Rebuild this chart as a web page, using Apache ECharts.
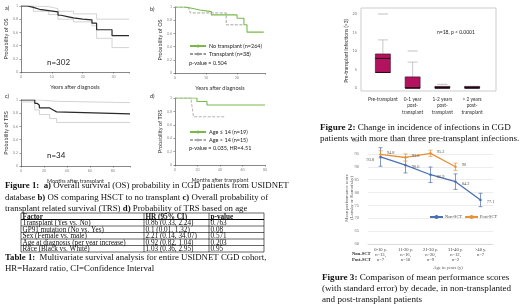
<!DOCTYPE html>
<html><head><meta charset="utf-8">
<script src="https://cdn.jsdelivr.net/npm/echarts@6/dist/echarts.min.js"></script>
<style>html,body{margin:0;padding:0;background:#fff}#c{width:520px;height:305px}</style>
</head><body><div id="c"></div>
<script>
// ---------- Figure 1a: overall survival ----------
const osYears  = [0, 2, 4, 6, 9, 12, 13, 15, 17, 20, 23, 24.5, 29.5, 35];
const osProb   = [1, 0.98, 0.95, 0.93, 0.91, 0.86, 0.84, 0.82, 0.80, 0.79, 0.74, 0.64, 0.55, 0.55];
const osUpYears = [0, 4, 9, 12, 17, 24.5, 35];
const osUpProb  = [1, 0.99, 0.96, 0.92, 0.88, 0.80, 0.80];
const osLoYears = [0, 4, 9, 12, 17, 23, 24.5, 29.5, 35];
const osLoProb  = [1, 0.92, 0.87, 0.80, 0.76, 0.70, 0.51, 0.37, 0.37];
// ---------- Figure 1b: transplant vs no transplant ----------
const noTxYears = [0, 3, 5.4, 8, 11.7, 20, 22.2, 23.2, 28.6];
const noTxProb  = [1, 0.98, 0.955, 0.93, 0.88, 0.83, 0.73, 0.62, 0.62];
const txYears   = [0, 4.5, 5, 13, 16.5, 22];
const txProb    = [1, 0.96, 0.91, 0.91, 0.73, 0.73];
// ---------- Figure 1c: TRS ----------
const trsMonths = [0, 12, 14, 16, 25, 28, 31, 95];
const trsProb   = [1, 0.95, 0.92, 0.88, 0.85, 0.82, 0.79, 0.79];
const trsUpMonths = [0, 12, 16, 31, 95];
const trsUpProb   = [1, 1, 0.98, 0.96, 0.96];
const trsLoMonths = [0, 12, 16, 25, 31, 95];
const trsLoProb   = [0.97, 0.85, 0.78, 0.72, 0.66, 0.66];
// ---------- Figure 1d: TRS by age ----------
const youngMonths = [0, 19.5, 28.4, 80];
const youngProb   = [1, 0.947, 0.895, 0.895];
const oldMonths   = [0, 14.5, 15.2, 15.8, 16.4, 44];
const oldProb     = [1, 0.93, 0.87, 0.80, 0.72, 0.72];
// ---------- Table 1 ----------
const tableHeader = ['Factor', 'HR (95% CI)', 'p-value'];
const tableFactor = ['Transplant (Yes vs. No)', 'GP91 mutation (No vs. Yes)', 'Sex (Female vs. male)', 'Age at diagnosis (per year increase)', 'Race (Black vs. White)'];
const tableHR     = ['0.86 (0.33, 2.24)', '0.1 (0.01, 1.32)', '2.21 (0.14, 34.07)', '0.92 (0.82, 1.04)', '1.03 (0.36, 2.95)'];
const tablePValue = ['0.763', '0.08', '0.571', '0.203', '0.95'];
// ---------- Figure 2: infections box plot ----------
const infCategories = ['Pre-transplant', '0-1 year\npost-\ntransplant', '1-2 years\npost-\ntransplant', '> 2 years\npost-\ntransplant'];
const infMin    = [4, 0, 0, 0];
const infQ1     = [4.2, 0, 0, 0];
const infMedian = [8, 0, 0, 0];
const infQ3     = [9.2, 3, 0, 0];
const infMax    = [13, 7, 0, 0];
const infOutlierCat = [0, 1, 2];
const infOutlierVal = [20, 10, 1];
// ---------- Figure 3: performance scores ----------
const ageGroups   = ['0-10 y.', '11-20 y.', '21-30 y.', '31-40 y.', '>40 y.'];
const nonSctN     = ['n=13,', 'n=16,', 'n=20,', 'n=12,', 'n=7'];
const postSctN    = ['n=7', 'n=10', 'n=9', 'n=2', ''];
const nonSctMean  = [93.8, 90.6, 86.9, 84.2, 77.1];
const nonSctSE    = [3.6, 3.0, 3.0, 3.0, 2.6];
const postSctMean = [94.8, 93.6, 95.2, 90.0];
const postSctSE   = [1.4, 1.4, 1.2, 1.4];

const lato = 'Lato, "Liberation Sans", sans-serif';
const serif = '"Liberation Serif", "Times New Roman", serif';
const pairs = (xs, ys) => xs.map((x, i) => [x, ys[i]]);

function kmX(gi, max, interval, name) {
  return {type: 'value', gridIndex: gi, min: 0, max: max, interval: interval,
    name: name, nameLocation: 'middle', nameGap: 12,
    nameTextStyle: {fontFamily: lato, fontSize: 5.5, color: '#333'},
    axisLine: {show: true, lineStyle: {color: '#555', width: 0.7}},
    axisTick: {show: true, length: 1.5, lineStyle: {color: '#555', width: 0.6}},
    axisLabel: {fontSize: 3.5, color: '#888', margin: 3, fontFamily: lato,
      formatter: v => (Math.abs(v / interval - Math.round(v / interval)) < 1e-6 ? String(v) : '')},
    splitLine: {show: false}};
}
function kmY(gi, name) {
  return {type: 'value', gridIndex: gi, min: 0, max: 1, interval: 0.2,
    name: name, nameLocation: 'middle', nameGap: 12, nameRotate: 90,
    nameTextStyle: {fontFamily: lato, fontSize: 5.5, color: '#333'},
    axisLine: {show: true, lineStyle: {color: '#555', width: 0.7}},
    axisTick: {show: true, length: 1.5, lineStyle: {color: '#555', width: 0.6}},
    axisLabel: {fontSize: 3.5, color: '#888', margin: 3, fontFamily: lato},
    splitLine: {show: false}};
}
function km(name, gi, xs, ys, color, width, type) {
  return {name: name, type: 'line', step: 'end', xAxisIndex: gi, yAxisIndex: gi,
    data: pairs(xs, ys), symbol: 'none', silent: true, animation: false,
    lineStyle: {color: color, width: width, type: type || 'solid'}, itemStyle: {color: color}};
}
function errBars(name, means, ses, color, gi) {
  return {name: name, type: 'custom', xAxisIndex: gi, yAxisIndex: gi, animation: false,
    data: means.map((m, i) => [i, m - ses[i], m + ses[i]]),
    encode: {x: 0, y: [1, 2]},
    renderItem: (params, api) => {
      const lo = api.coord([api.value(0), api.value(1)]);
      const hi = api.coord([api.value(0), api.value(2)]);
      const st = {stroke: color, lineWidth: 0.7};
      return {type: 'group', children: [
        {type: 'line', shape: {x1: lo[0], y1: lo[1], x2: hi[0], y2: hi[1]}, style: st},
        {type: 'line', shape: {x1: lo[0] - 2, y1: lo[1], x2: lo[0] + 2, y2: lo[1]}, style: st},
        {type: 'line', shape: {x1: hi[0] - 2, y1: hi[1], x2: hi[0] + 2, y2: hi[1]}, style: st}
      ]};
    }};
}

const green = '#79b94a';
const txt = (x, y, text, size, opts) => Object.assign({type: 'text', x: x, y: y, silent: true,
  style: Object.assign({text: text, fontSize: size, fontFamily: lato, fill: '#222', verticalAlign: 'middle'}, (opts && opts.style) || {})},
  opts && opts.rotation !== undefined ? {rotation: opts.rotation} : {});
const cap = (x, y, text, size) => ({type: 'text', x: x, y: y, silent: true,
  style: {text: text, fontSize: size, fontFamily: serif, fill: '#111', verticalAlign: 'middle',
    rich: {b: {fontWeight: 'bold', fontSize: size, fontFamily: serif, fill: '#111'}}}});

// table graphic
const tbl = [];
const colX = [21, 144, 209, 264];
const rowTop = 213, rowH = 6.5;
const nRows = tableFactor.length + 1;
for (let r = 0; r <= nRows; r++) {
  const y = rowTop + r * rowH;
  tbl.push({type: 'line', silent: true, shape: {x1: colX[0], y1: y, x2: colX[3], y2: y}, style: {stroke: '#000', lineWidth: r === 1 ? 1.1 : 0.6}});
}
colX.forEach(x => tbl.push({type: 'line', silent: true, shape: {x1: x, y1: rowTop, x2: x, y2: rowTop + nRows * rowH}, style: {stroke: '#000', lineWidth: 0.6}}));
const rows = [tableHeader].concat(tableFactor.map((f, i) => [f, tableHR[i], tablePValue[i]]));
rows.forEach((row, r) => row.forEach((t, c) => tbl.push({type: 'text', silent: true, x: colX[c] + 1.5, y: rowTop + r * rowH + rowH / 2 + 0.4,
  style: {text: t, fontSize: 7.2, fontFamily: serif, fontWeight: r === 0 ? 'bold' : 'normal', fill: '#111', verticalAlign: 'middle'}})));

const option = {
  backgroundColor: '#fff',
  animation: false,
  grid: [
    {left: 21, top: 6, width: 108, height: 66},
    {left: 175, top: 7, width: 90, height: 66},
    {left: 21, top: 100, width: 109, height: 66},
    {left: 175, top: 98, width: 90, height: 67},
    {left: 368, top: 14, width: 119, height: 74},
    {left: 368, top: 141, width: 125, height: 103}
  ],
  xAxis: [
    kmX(0, 35, 10, 'Years after diagnosis'),
    kmX(1, 29, 10, 'Years after diagnosis'),
    kmX(2, 95, 20, 'Months after transplant'),
    kmX(3, 80, 20, 'Months after transplant'),
    {type: 'category', gridIndex: 4, data: infCategories, axisLine: {show: false}, axisTick: {show: false},
      axisLabel: {fontSize: 4.8, fontFamily: lato, color: '#333', lineHeight: 6.5, margin: 8, interval: 0}},
    {type: 'category', gridIndex: 5, data: ageGroups.map((g, i) => g + '\n' + nonSctN[i] + '\n' + postSctN[i]),
      axisLine: {show: true, lineStyle: {color: '#ccc', width: 0.6}}, axisTick: {show: false},
      axisLabel: {fontSize: 4.6, fontFamily: serif, color: '#444', lineHeight: 5.2, margin: 3, interval: 0, verticalAlign: 'top'}}
  ],
  yAxis: [
    kmY(0, 'Probability of OS'),
    kmY(1, 'Probability of OS'),
    kmY(2, 'Probability of TRS'),
    kmY(3, 'Probability of TRS'),
    {type: 'value', gridIndex: 4, min: 0, max: 20, interval: 5,
      name: 'Pre-transplant infections (>3)', nameLocation: 'middle', nameGap: 16, nameRotate: 90,
      nameTextStyle: {fontFamily: lato, fontSize: 5, color: '#333'},
      axisLine: {show: false}, axisTick: {show: false}, splitLine: {show: false},
      axisLabel: {fontSize: 3.8, color: '#777', margin: 11, fontFamily: lato}},
    {type: 'value', gridIndex: 5, min: 60, max: 100, interval: 5,
      axisLine: {show: false}, axisTick: {show: false},
      splitLine: {show: true, lineStyle: {color: '#e0e0e0', width: 0.6}},
      axisLabel: {fontSize: 4.6, color: '#777', margin: 9, fontFamily: serif}}
  ],
  legend: [
    {orient: 'vertical', left: 189, top: 43, itemWidth: 16, itemHeight: 4, itemGap: 2, padding: 0,
      data: ['No transplant (n=264)', 'Transplant (n=38)'],
      textStyle: {fontFamily: lato, fontSize: 5.5, color: '#222', padding: [0, 0, 0, -2]}},
    {orient: 'vertical', left: 189, top: 129, itemWidth: 16, itemHeight: 4, itemGap: 2, padding: 0,
      data: ['Age ≤ 14 (n=19)', 'Age > 14 (n=15)'],
      textStyle: {fontFamily: lato, fontSize: 5.5, color: '#222', padding: [0, 0, 0, -2]}},
    {orient: 'horizontal', left: 429, top: 215, itemWidth: 13, itemHeight: 5, itemGap: 2, padding: 0,
      data: ['Non-SCT', 'Post-SCT'],
      textStyle: {fontFamily: serif, fontSize: 4.4, color: '#444', padding: [0, 0, 0, -3]}}
  ],
  series: [
    km('osUpper', 0, osUpYears, osUpProb, '#c8c8c8', 0.8),
    km('osLower', 0, osLoYears, osLoProb, '#c8c8c8', 0.8),
    km('os', 0, osYears, osProb, '#2a2a2a', 1.2),
    km('Transplant (n=38)', 1, txYears, txProb, '#9a9a9a', 0.9, [3, 1.5]),
    km('No transplant (n=264)', 1, noTxYears, noTxProb, green, 1.1),
    km('trsUpper', 2, trsUpMonths, trsUpProb, '#c8c8c8', 0.8),
    km('trsLower', 2, trsLoMonths, trsLoProb, '#c8c8c8', 0.8),
    km('trs', 2, trsMonths, trsProb, '#2a2a2a', 1.2),
    km('Age > 14 (n=15)', 3, oldMonths, oldProb, '#aaaaaa', 0.9, [3, 1.5]),
    km('Age ≤ 14 (n=19)', 3, youngMonths, youngProb, green, 1.1),
    {name: 'box', type: 'custom', xAxisIndex: 4, yAxisIndex: 4, animation: false,
      data: infCategories.map((c, i) => [i, infMin[i], infQ1[i], infMedian[i], infQ3[i], infMax[i]]),
      encode: {x: 0, y: [1, 2, 3, 4, 5]},
      renderItem: (params, api) => {
        const i = api.value(0);
        const cx = api.coord([i, 0])[0];
        const y = k => api.coord([i, api.value(k)])[1];
        const yMin = y(1), yQ1 = y(2), yMd = y(3), yQ3 = y(4), yMax = y(5);
        const hw = 7.5, whisk = {stroke: '#b0b0b0', lineWidth: 0.7};
        const ch = [];
        if (yMax < yQ3) {
          ch.push({type: 'line', shape: {x1: cx, y1: yQ3, x2: cx, y2: yMax}, style: whisk});
          ch.push({type: 'line', shape: {x1: cx - 5, y1: yMax, x2: cx + 5, y2: yMax}, style: whisk});
        }
        if (yMin > yQ1) {
          ch.push({type: 'line', shape: {x1: cx, y1: yQ1, x2: cx, y2: yMin}, style: whisk});
        }
        const h = Math.max(yQ1 - yQ3, 1.6);
        ch.push({type: 'rect', shape: {x: cx - hw, y: yQ1 - h, width: hw * 2, height: h},
          style: {fill: h > 2 ? '#b3135e' : '#222', stroke: '#3a0a22', lineWidth: 0.6}});
        ch.push({type: 'line', shape: {x1: cx - hw, y1: yMd, x2: cx + hw, y2: yMd}, style: {stroke: '#1a0510', lineWidth: 1}});
        ch.push({type: 'line', shape: {x1: cx - hw, y1: yQ1, x2: cx + hw, y2: yQ1}, style: {stroke: '#1a0510', lineWidth: 0.9}});
        return {type: 'group', children: ch};
      }},
    {name: 'outliers', type: 'scatter', xAxisIndex: 4, yAxisIndex: 4, animation: false,
      data: pairs(infOutlierCat, infOutlierVal), symbol: 'rect', symbolSize: [10, 0.9],
      itemStyle: {color: '#a8a8a8'}},
    errBars('Non-SCT err', nonSctMean, nonSctSE, '#4a6fb3', 5),
    errBars('Post-SCT err', postSctMean, postSctSE, '#e69138', 5),
    {name: 'Non-SCT', type: 'line', xAxisIndex: 5, yAxisIndex: 5, animation: false,
      data: nonSctMean.map((v, i) => i === 0 ? {value: v, label: {position: 'left', offset: [0, 3]}} : v),
      symbol: 'circle', symbolSize: 2.5, lineStyle: {color: '#4a6fb3', width: 1.3}, itemStyle: {color: '#4a6fb3'},
      label: {show: true, position: 'right', offset: [0, 2], fontSize: 4.4, fontFamily: serif, color: '#555'}},
    {name: 'Post-SCT', type: 'line', xAxisIndex: 5, yAxisIndex: 5, animation: false,
      data: postSctMean, symbol: 'circle', symbolSize: 2.5, lineStyle: {color: '#e69138', width: 1.3}, itemStyle: {color: '#e69138'},
      label: {show: true, position: 'right', offset: [0, -2], fontSize: 4.4, fontFamily: serif, color: '#555'}}
  ],
  graphic: [
    txt(5, 8, 'a)', 5.5), txt(150, 9, 'b)', 5.5), txt(5, 96, 'c)', 5.5), txt(150, 96, 'd)', 5.5),
    txt(47, 62, 'n=302', 8), txt(47, 155, 'n=34', 8),
    txt(189, 63, 'p-value = 0.504', 5.5), txt(189, 148, 'p-value = 0.035, HR=4.51', 5.5),
    {type: 'rect', silent: true, shape: {x: 361, y: 8, width: 135, height: 83}, style: {fill: 'none', stroke: '#c0c0c0', lineWidth: 0.8}},
    txt(437, 32, 'n=18, p < 0.0001', 5),
    txt(352, 254, 'Non-SCT', 4.6, {style: {fontFamily: serif, fontWeight: 'bold'}}),
    txt(352, 259.5, 'Post-SCT', 4.6, {style: {fontFamily: serif, fontWeight: 'bold'}}),
    txt(448, 268, 'Age in years (y)', 4.6, {style: {fontFamily: serif, align: 'center', fill: '#555'}}),
    {type: 'text', silent: true, x: 349, y: 198, rotation: Math.PI / 2,
      style: {text: 'Mean performance score\n(Lansky or Karnofsky)', fontSize: 4.8, fontFamily: serif, fill: '#555', align: 'center', verticalAlign: 'middle', lineHeight: 5.5}},
    cap(5, 186, '{b|Figure 1:  a)} Overall survival (OS) probability in CGD patients from USIDNET', 8.8),
    cap(5, 197.5, 'database {b|b)} OS comparing HSCT to no transplant {b|c)} Overall probability of', 8.8),
    cap(5, 209, 'transplant related survival (TRS) {b|d)} Probability of TRS based on age', 8.8),
    cap(5, 258, '{b|Table 1:}  Multivariate survival analysis for entire USIDNET CGD cohort,', 8.8),
    cap(5, 269, 'HR=Hazard ratio, CI=Confidence Interval', 8.8),
    cap(320, 128, '{b|Figure 2:} Change in incidence of infections in CGD', 9.1),
    cap(320, 139, 'patients with more than three pre-transplant infections.', 9.1),
    cap(322, 277.5, '{b|Figure 3:} Comparison of mean performance scores', 9.1),
    cap(322, 288.5, '(with standard error) by decade, in non-transplanted', 9.1),
    cap(322, 299.5, 'and post-transplant patients', 9.1)
  ].concat(tbl)
};
const chart = echarts.init(document.getElementById('c'), null, {renderer: 'canvas', width: 520, height: 305});
chart.setOption(option);
</script>
</body></html>
